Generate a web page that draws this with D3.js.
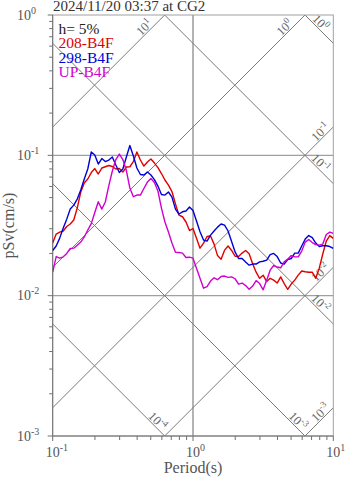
<!DOCTYPE html>
<html><head><meta charset="utf-8">
<script src="https://cdn.jsdelivr.net/npm/d3@7"></script>
<style>body{margin:0;background:#fff}svg{display:block}</style>
</head><body>
<script>
// Pseudo-velocity response spectra (5% damping), tripartite log-log plot
const title = "2024/11/20 03:37 at CG2";
const dampingLabel = "h= 5%";
const seriesNames = ["208-B4F", "298-B4F", "UP-B4F"];
const seriesColors = ["#e00000", "#0000d8", "#d000d0"];

const periods = [
  0.1,0.1059,0.1122,0.1189,0.1259,0.1334,0.1413,0.1496,0.1585,0.1679,
  0.1778,0.1884,0.1995,0.2113,0.2239,0.2371,0.2512,0.2661,0.2818,0.2985,
  0.3162,0.335,0.3548,0.3758,0.3981,0.4217,0.4467,0.4732,0.5012,0.5309,
  0.5623,0.5957,0.631,0.6683,0.7079,0.7499,0.7943,0.8414,0.8913,0.9441,
  1.0,1.059,1.122,1.189,1.259,1.334,1.413,1.496,1.585,1.679,
  1.778,1.884,1.995,2.113,2.239,2.371,2.512,2.661,2.818,2.985,
  3.162,3.35,3.548,3.758,3.981,4.217,4.467,4.732,5.012,5.309,
  5.623,5.957,6.31,6.683,7.079,7.499,7.943,8.414,8.913,9.441,10.0
];
const sv208 = [
  .0237,.0275,.0284,.0289,.0311,.0324,.0346,.0421,.0548,.0635,
  .0678,.0754,.0805,.0736,.0812,.0829,.0846,.0832,.0799,.0805,
  .0760,.0825,.0829,.0903,.1056,.0926,.0839,.0896,.0941,.0881,
  .0818,.0742,.0667,.0614,.0552,.0450,.0375,.0365,.0335,.0291,
  .0301,.0257,.0218,.0237,.0264,.0266,.0233,.0193,.0182,.0211,
  .0226,.0210,.0191,.0190,.0201,.0210,.0199,.0169,.0147,.0133,
  .0140,.0126,.0133,.0129,.0123,.0136,.0122,.0111,.0121,.0129,
  .0140,.0150,.0148,.0147,.0147,.0133,.0157,.0198,.0245,.0268,.0256
];
const sv298 = [
  .0210,.0226,.0257,.0303,.0351,.0414,.0442,.0488,.0566,.0678,
  .0799,.1056,.1005,.0867,.0949,.0903,.0926,.0972,.0853,.0754,
  .0799,.0972,.1174,.0989,.0812,.0730,.0724,.0760,.0724,.0672,
  .0604,.0526,.0521,.0548,.0504,.0414,.0382,.0396,.0401,.0428,
  .0404,.0340,.0285,.0249,.0245,.0270,.0289,.0308,.0324,.0318,
  .0289,.0243,.0205,.0184,.0184,.0174,.0165,.0168,.0168,.0174,
  .0176,.0179,.0196,.0200,.0190,.0171,.0168,.0181,.0184,.0201,
  .0201,.0226,.0253,.0268,.0259,.0237,.0224,.0227,.0227,.0224,.0217
];
const svUP = [
  .0147,.0190,.0185,.0189,.0200,.0217,.0218,.0229,.0241,.0262,
  .0293,.0326,.0391,.0467,.0414,.0465,.0609,.0773,.0933,.1022,
  .0933,.0779,.0585,.0507,.0521,.0521,.0580,.0645,.0683,.0640,
  .0557,.0421,.0335,.0284,.0237,.0204,.0203,.0201,.0187,.0188,
  .0185,.0157,.0133,.0113,.0116,.0127,.0134,.0130,.0137,.0138,
  .0135,.0136,.0132,.0121,.0123,.0118,.0111,.0117,.0128,.0122,
  .0110,.0129,.0152,.0164,.0160,.0158,.0174,.0182,.0193,.0189,
  .0189,.0208,.0241,.0251,.0239,.0231,.0229,.0233,.0273,.0284,.0278
];
const seriesValues = [sv208, sv298, svUP];

const xTickExps = [-1, 0, 1];          // period decades
const yTickExps = [0, -1, -2, -3];     // pSv decades
const dispExps = [0, -1, -2, -3, -4];  // displacement lines, cm
const accExps = [1, 0, -1, -2, -3];    // acceleration lines, cm/s^2

const W = 347, H = 478;
const L = 52.7, R = 333.3, T = 15, B = 436;
const serif = "'Liberation Serif','Times New Roman',serif";

const x = d3.scaleLog().domain([0.1, 10]).range([L, R]);
const y = d3.scaleLog().domain([0.001, 1]).range([B, T]);

const svg = d3.select("body").append("svg").attr("width", W).attr("height", H)
  .style("font-family", serif);

svg.append("clipPath").attr("id", "plotclip")
  .append("rect").attr("x", L).attr("y", T).attr("width", R - L).attr("height", B - T);

// grid lines at decades
const grid = svg.append("g").attr("stroke", "#a0a0a0").attr("fill", "none");
grid.append("line").attr("x1", x(1)).attr("x2", x(1)).attr("y1", T).attr("y2", B)
  .attr("stroke-width", 1.6);
[0.1, 0.01].forEach(v => grid.append("line").attr("x1", L).attr("x2", R)
  .attr("y1", y(v)).attr("y2", y(v)).attr("stroke-width", 1.4));

// tripartite diagonals
const TWO_PI = 2 * Math.PI;
const diag = svg.append("g").attr("clip-path", "url(#plotclip)")
  .attr("stroke", "#7a7a7a").attr("stroke-width", 1).attr("fill", "none");
const labels = svg.append("g").attr("fill", "#666").style("font-size", "12.5px");

function diagLabel(cx, cy, angle, e) {
  const t = labels.append("text")
    .attr("transform", `translate(${cx},${cy}) rotate(${angle})`)
    .attr("text-anchor", "middle").attr("y", 4);
  t.append("tspan").text("10");
  t.append("tspan").attr("dy", -5).style("font-size", "9px").text(e);
}

dispExps.forEach(e => {
  const sd = Math.pow(10, e);
  const f = t => TWO_PI * sd / t;
  diag.append("line").attr("x1", x(0.01)).attr("y1", y(f(0.01)))
    .attr("x2", x(100)).attr("y2", y(f(100)));
  const c = y(f(1)) - x(1);          // screen line: y = x + c
  let cx, cy;
  if (R + c <= B) { cx = R - 12.8; cy = cx + c - 7.8; }
  else { cy = B - 15; cx = cy + 7.8 - c; }
  diagLabel(cx, cy, 45, e);
});

accExps.forEach(e => {
  const sa = Math.pow(10, e);
  const f = t => sa * t / TWO_PI;
  diag.append("line").attr("x1", x(0.01)).attr("y1", y(f(0.01)))
    .attr("x2", x(100)).attr("y2", y(f(100)));
  const c = y(f(1)) + x(1);          // screen line: y = -x + c
  let cx, cy;
  if (c - R >= T) { cx = R - 12.8; cy = c - cx - 7.8; }
  else { cy = T + 12.5; cx = c - cy - 7.8; }
  diagLabel(cx, cy, -45, e);
});

// frame
svg.append("rect").attr("x", L).attr("y", T).attr("width", R - L).attr("height", B - T)
  .attr("fill", "none").attr("stroke", "#a0a0a0").attr("stroke-width", 1);
svg.append("line").attr("x1", L).attr("x2", L).attr("y1", T).attr("y2", B)
  .attr("stroke", "#707070");
svg.append("line").attr("x1", L).attr("x2", R).attr("y1", B).attr("y2", B)
  .attr("stroke", "#707070");

// ticks
const ticks = svg.append("g").attr("stroke", "#707070").attr("stroke-width", 1);
x.ticks().forEach(v => {
  const major = Math.abs(Math.log10(v) - Math.round(Math.log10(v))) < 1e-9;
  ticks.append("line").attr("x1", x(v)).attr("x2", x(v)).attr("y1", B).attr("y2", B + (major ? 5 : 4));
});
y.ticks().forEach(v => {
  const major = Math.abs(Math.log10(v) - Math.round(Math.log10(v))) < 1e-9;
  ticks.append("line").attr("y1", y(v)).attr("y2", y(v)).attr("x1", L).attr("x2", L - (major ? 5 : 3.5));
});

const tickText = svg.append("g").attr("fill", "#555").style("font-size", "14px");
xTickExps.forEach(e => {
  const t = tickText.append("text").attr("x", x(Math.pow(10, e)) - 7).attr("y", 457);
  t.append("tspan").text("10");
  t.append("tspan").attr("dy", -6).style("font-size", "10px").text(e);
});
yTickExps.forEach(e => {
  const t = tickText.append("text").attr("x", 17).attr("y", y(Math.pow(10, e)) + 4.5);
  t.append("tspan").text("10");
  t.append("tspan").attr("dy", -6).style("font-size", "10px").text(e);
});

// axis titles
svg.append("text").attr("x", (L + R) / 2).attr("y", 473).attr("text-anchor", "middle")
  .attr("fill", "#555").style("font-size", "16px").text("Period(s)");
svg.append("text").attr("transform", `translate(14,${(T + B) / 2}) rotate(-90)`)
  .attr("text-anchor", "middle").attr("fill", "#555").style("font-size", "16px").text("pSv(cm/s)");

// spectra
const line = d3.line().x(d => x(d[0])).y(d => y(d[1]));
const curves = svg.append("g").attr("clip-path", "url(#plotclip)").attr("fill", "none");
seriesValues.forEach((vals, i) => {
  curves.append("path").datum(periods.map((p, j) => [p, vals[j]]))
    .attr("d", line).attr("stroke", seriesColors[i]).attr("stroke-width", 1.4)
    .attr("stroke-linejoin", "round");
});

// title and legend
svg.append("text").attr("x", 53).attr("y", 11).attr("fill", "#333")
  .style("font-size", "15px").text(title);
const leg = svg.append("g").style("font-size", "15.5px");
leg.append("text").attr("x", 58.5).attr("y", 33.5).attr("fill", "#222").text(dampingLabel);
seriesNames.forEach((n, i) => leg.append("text").attr("x", 58.5).attr("y", 48 + i * 14.7)
  .attr("fill", seriesColors[i]).text(n));
</script>
</body></html>
